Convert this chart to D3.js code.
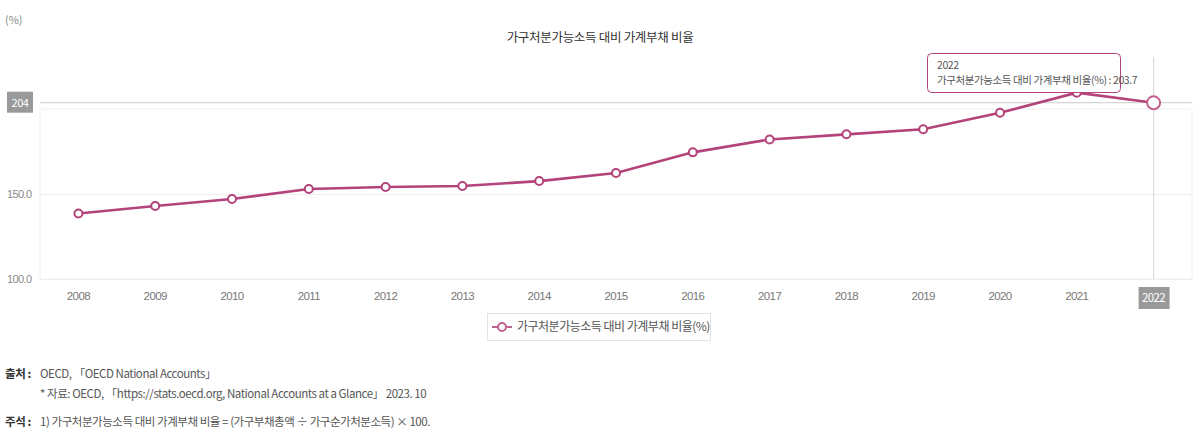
<!DOCTYPE html>
<html><head><meta charset="utf-8">
<script src="https://cdn.jsdelivr.net/npm/d3@7"></script>
<style>
html,body{margin:0;padding:0;background:#fff;}
svg{display:block;font-family:"Noto Sans CJK KR","Noto Sans",sans-serif;}
</style></head>
<body><svg id="c" width="1200" height="435"></svg>
<script>
const years = ["2008","2009","2010","2011","2012","2013","2014","2015","2016","2017","2018","2019","2020","2021","2022"];
const ratio = [138.5,142.9,147.1,152.9,154.1,154.7,157.6,162.4,174.5,182.1,185.1,188.1,197.8,209.6,203.7];
const yTicks = [100,150];
const seriesName = "가구처분가능소득 대비 가계부채 비율(%)";
const title = "가구처분가능소득 대비 가계부채 비율";
const hoverIndex = 14;

const color = "#b3437a";
const svg = d3.select("#c");
const L = 40, R = 1192, T = 109, B = 279;
const x = d3.scaleBand().domain(years).range([L, R]);
const cx = d => x(d) + x.bandwidth()/2;
const y = d3.scaleLinear().domain([100,200]).range([B, T]);

svg.append("rect").attr("x",L).attr("y",T).attr("width",R-L).attr("height",B-T)
  .attr("fill","#fff").attr("stroke","#f0f0f0");

const yAxis = d3.axisLeft(y).tickValues(yTicks).tickSize(-(R-L)).tickFormat(d3.format(".1f"));
const gy = svg.append("g").attr("transform",`translate(${L},0)`).call(yAxis);
gy.select(".domain").remove();
gy.selectAll(".tick line").attr("stroke","#eeeeee");
gy.selectAll(".tick text").attr("x",-33).attr("text-anchor","start").attr("fill","#888")
  .attr("font-size",11).attr("letter-spacing","-0.6");

const xAxis = d3.axisBottom(x).tickSize(0).tickPadding(13)
  .tickFormat(d => d === years[hoverIndex] ? "" : d);
const gx = svg.append("g").attr("transform",`translate(0,${B})`).call(xAxis);
gx.select(".domain").remove();
gx.selectAll(".tick text").attr("fill","#777").attr("font-size",11.5).attr("letter-spacing","-0.6");

const hy = y(ratio[hoverIndex]);
svg.append("line").attr("x1",L).attr("x2",R).attr("y1",hy).attr("y2",hy).attr("stroke","#d6d6d6").attr("stroke-width",1.2);
svg.append("line").attr("x1",cx(years[hoverIndex])).attr("x2",cx(years[hoverIndex])).attr("y1",57).attr("y2",B).attr("stroke","#dddddd").attr("stroke-width",1.2);

svg.append("rect").attr("x",7).attr("y",hy-11).attr("width",26).attr("height",21).attr("fill","#999");
svg.append("text").attr("x",20).attr("y",hy+4).attr("text-anchor","middle").attr("fill","#fff")
  .attr("font-size",11).attr("letter-spacing","-0.5").text(Math.round(ratio[hoverIndex]));
const hx = cx(years[hoverIndex]);
svg.append("rect").attr("x",hx-15).attr("y",B+8).attr("width",31).attr("height",22).attr("fill","#999");
svg.append("text").attr("x",hx).attr("y",B+23).attr("text-anchor","middle").attr("fill","#fff")
  .attr("font-size",11.5).attr("letter-spacing","-0.6").text(years[hoverIndex]);

const line = d3.line().x((d,i)=>cx(years[i])).y(d=>y(d));
svg.append("path").datum(ratio).attr("d",line).attr("fill","none").attr("stroke",color).attr("stroke-width",2.6);
svg.selectAll("circle.pt").data(ratio).enter().append("circle").attr("class","pt")
  .attr("cx",(d,i)=>cx(years[i])).attr("cy",d=>y(d))
  .attr("r",(d,i)=>i===hoverIndex?6.5:4)
  .attr("fill","#fff")
  .attr("stroke",(d,i)=>i===hoverIndex?"#c0628f":color)
  .attr("stroke-width",2);

svg.append("text").attr("x",600).attr("y",42).attr("text-anchor","middle").attr("fill","#333")
  .attr("font-size",12.5).attr("letter-spacing","-0.3").text(title);
svg.append("text").attr("x",5).attr("y",24).attr("fill","#888").attr("font-size",11).text("(%)");

svg.append("rect").attr("x",927.5).attr("y",53.5).attr("width",193).attr("height",39).attr("rx",4)
  .attr("fill","#fff").attr("stroke","#b3437a").attr("stroke-width",1);
svg.append("text").attr("x",937).attr("y",69).attr("fill","#555").attr("font-size",10.5).attr("letter-spacing","-0.4").text(years[hoverIndex]);
svg.append("text").attr("x",937).attr("y",84).attr("fill","#555").attr("font-size",10.5).attr("letter-spacing","-0.4")
  .text(seriesName + " : " + ratio[hoverIndex]);

svg.append("rect").attr("x",487.5).attr("y",313.5).attr("width",223).attr("height",27).attr("fill","#fff").attr("stroke","#e3e3e3");
svg.append("line").attr("x1",492).attr("x2",512).attr("y1",327).attr("y2",327).attr("stroke","#c0628f").attr("stroke-width",2);
svg.append("circle").attr("cx",502).attr("cy",327).attr("r",4).attr("fill","#fff").attr("stroke","#c0628f").attr("stroke-width",2);
svg.append("text").attr("x",517).attr("y",331).attr("fill","#555").attr("font-size",12).attr("letter-spacing","-0.5").text(seriesName);

const foot = svg.append("g").attr("font-size",11.5).attr("fill","#555").attr("letter-spacing","-0.45");
foot.append("text").attr("x",5).attr("y",378).attr("font-weight","bold").attr("fill","#333").text("출처 :");
foot.append("text").attr("x",40).attr("y",378).text("OECD, 「OECD National Accounts」");
foot.append("text").attr("x",40).attr("y",398).text("* 자료: OECD, 「https://stats.oecd.org, National Accounts at a Glance」 2023. 10");
foot.append("text").attr("x",5).attr("y",426).attr("font-weight","bold").attr("fill","#333").text("주석 :");
foot.append("text").attr("x",40).attr("y",426).text("1) 가구처분가능소득 대비 가계부채 비율 = (가구부채총액 ÷ 가구순가처분소득) × 100.");
</script></body></html>
